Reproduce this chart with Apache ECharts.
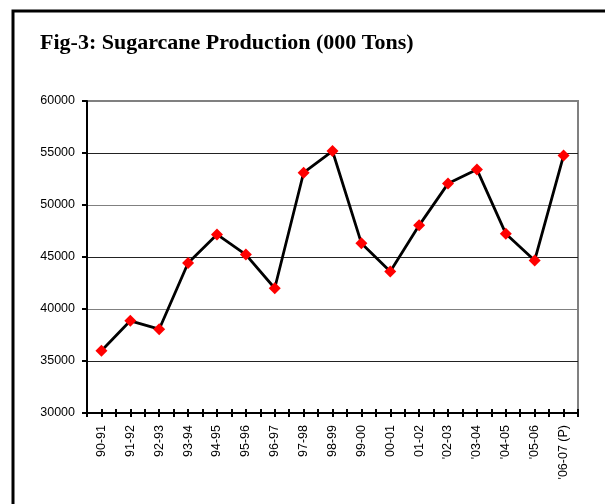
<!DOCTYPE html>
<html>
<head>
<meta charset="utf-8">
<script src="https://cdn.jsdelivr.net/npm/echarts@6/dist/echarts.min.js"></script>
<style>
  html, body { margin: 0; padding: 0; background: #fff; }
  #chart { width: 605px; height: 504px; }
</style>
</head>
<body>
<div id="chart"></div>
<script>
var seasons = ['90-91', '91-92', '92-93', '93-94', '94-95', '95-96', '96-97', '97-98', '98-99',
  '99-00', '00-01', '01-02', "'02-03", "'03-04", "'04-05", "'05-06", "'06-07 (P)"]
var production = [35989, 38865, 38059, 44427, 47168, 45230, 41998, 53104, 55191,
  46333, 43606, 48042, 52056, 53419, 47244, 44666, 54752]
var yMin = 30000
var yMax = 60000
var yStep = 5000

var chart = echarts.init(document.getElementById('chart'))

// extra axes only draw the little crossing ticks (boundaries + centres)
function tickAxis(centre) {
  return {
    type: 'category',
    data: seasons,
    position: 'bottom',
    offset: -4,
    boundaryGap: true,
    axisLine: { show: false },
    axisLabel: { show: false },
    axisTick: { show: true, interval: 0, length: 8, alignWithLabel: centre, lineStyle: { color: '#000', width: 2 } },
    splitLine: { show: false }
  }
}

var option = {
  animation: false,
  backgroundColor: '#fff',
  title: {
    text: 'Fig-3: Sugarcane Production (000 Tons)',
    left: 35,
    top: 27,
    textStyle: { fontFamily: 'Liberation Serif', fontWeight: 'bold', fontSize: 22, color: '#000' }
  },
  graphic: [{
    type: 'rect',
    shape: { x: 13, y: 11, width: 700, height: 600 },
    style: { fill: 'none', stroke: '#000', lineWidth: 3 },
    z: 10
  }],
  grid: {
    left: 87, right: 27, top: 101, bottom: 91,
    show: true, borderColor: '#808080', borderWidth: 2, backgroundColor: '#fff'
  },
  xAxis: [{
    type: 'category',
    data: seasons,
    boundaryGap: true,
    axisLine: { show: true, lineStyle: { color: '#000', width: 2 } },
    axisTick: { show: false },
    axisLabel: {
      interval: 0, rotate: 90, margin: 12,
      fontFamily: 'Liberation Sans', fontSize: 12.5, color: '#000'
    }
  }, tickAxis(false), tickAxis(true)],
  yAxis: {
    type: 'value',
    min: yMin, max: yMax, interval: yStep,
    axisLine: { show: true, lineStyle: { color: '#000', width: 2 } },
    axisTick: { show: true, length: 5, lineStyle: { color: '#000', width: 2 } },
    axisLabel: {
      margin: 12, fontFamily: 'Liberation Sans', fontSize: 12.5, color: '#000',
      formatter: function (v) { return String(v) }
    },
    splitLine: { show: true, lineStyle: { color: ['#808080', '#222'], width: 1 } }
  },
  series: [{
    type: 'line',
    data: production,
    symbol: 'diamond',
    symbolSize: 12,
    lineStyle: { color: '#000', width: 2.8 },
    itemStyle: { color: '#ff0000' },
    z: 5
  }]
}

chart.setOption(option)
</script>
</body>
</html>
